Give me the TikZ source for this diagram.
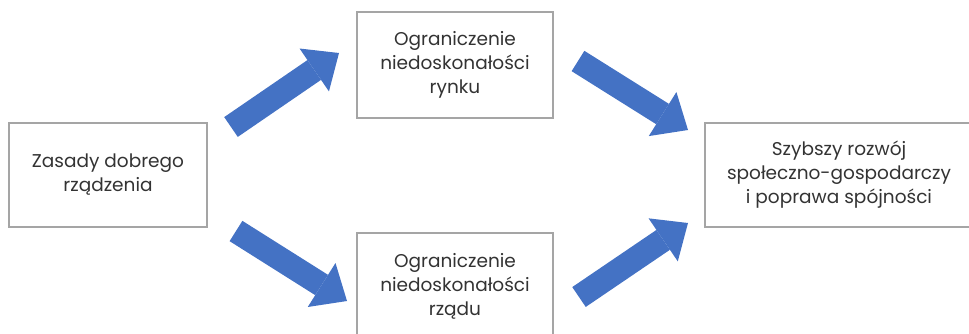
\documentclass[tikz,border=0pt]{standalone}
\usepackage{fontspec}
\setmainfont{Poppins}
\usetikzlibrary{arrows.meta}
\definecolor{arrowblue}{HTML}{4472C4}
\definecolor{boxgray}{HTML}{A5A5A5}
\definecolor{textgray}{HTML}{333333}
\begin{document}
\begin{tikzpicture}[
  x=1pt, y=-1pt,
  block/.style={rectangle, draw=boxgray, line width=1.6pt, fill=white, text=textgray, align=center, inner sep=0pt, font=\fontsize{18.5}{24}\selectfont},
  flow/.style={arrowblue, line width=24pt, -{Triangle[length=30pt,width=52pt,line width=0pt]}}
]
\clip (0,0) rectangle (969,333);

\node[block, minimum width=198pt, minimum height=104pt] (zasady) at (108,175) {Zasady dobrego\\rządzenia};
\node[block, minimum width=196pt, minimum height=106pt] (rynek) at (455,65) {Ograniczenie\\niedoskonałości\\rynku};
\node[block, minimum width=196pt, minimum height=106pt] (rzad) at (455,286) {Ograniczenie\\niedoskonałości\\rządu};
\node[block, minimum width=268pt, minimum height=104pt] (rozwoj) at (839,175) {Szybszy rozwój\\społeczno-gospodarczy\\i poprawa spójności};

% arrow ends
\coordinate (z1) at (231,127);
\coordinate (r1) at (339,53);
\coordinate (r2) at (578,61);
\coordinate (s1) at (688,130);
\coordinate (z2) at (236,231);
\coordinate (d1) at (347,301);
\coordinate (d2) at (579,297);
\coordinate (s2) at (688,223);

% Arrows
\draw[flow] (z1) -- (r1);
\draw[flow] (r2) -- (s1);
\draw[flow] (z2) -- (d1);
\draw[flow] (d2) -- (s2);
\end{tikzpicture}
\end{document}
